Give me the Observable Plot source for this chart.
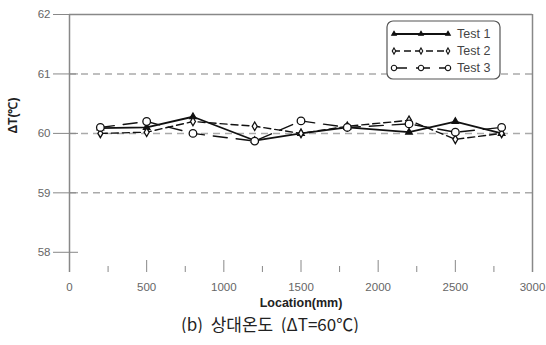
<!DOCTYPE html>
<html><head><meta charset="utf-8">
<script src="https://cdn.jsdelivr.net/npm/d3@7"></script>
<script src="https://cdn.jsdelivr.net/npm/@observablehq/plot@0.6"></script>
<style>
body{margin:0;background:#fff;font-family:"Liberation Sans",Arial,sans-serif}
#chart svg{display:block}
#cap{width:546px;text-align:center;font-family:"Noto Sans CJK KR","Liberation Sans",sans-serif;font-size:17px;line-height:18px;color:#222;margin-top:3px;position:relative;left:-3px;white-space:pre}
</style></head><body>
<div id="chart"></div>
<div id="cap">(b)  상대온도  (ΔT=60℃)</div>
<script>
const locations = [200, 500, 800, 1200, 1500, 1800, 2200, 2500, 2800];
const test1 = [60.09, 60.1, 60.28, 59.88, 60.0, 60.1, 60.02, 60.2, 60.0];
const test2 = [60.0, 60.02, 60.2, 60.12, 60.0, 60.12, 60.22, 59.9, 60.0];
const test3 = [60.1, 60.2, 60.0, 59.87, 60.21, 60.1, 60.16, 60.02, 60.1];
const seriesNames = ["Test 1", "Test 2", "Test 3"];
const xTicks = [0, 500, 1000, 1500, 2000, 2500, 3000];
const xMinorTicks = [250, 750, 1250, 1750, 2250, 2750];
const yTicks = [58, 59, 60, 61, 62];
const gridValues = [59, 60, 61];
const xLabel = "Location(mm)";
const yLabel = "ΔT(℃)";

const seriesValues = [test1, test2, test3];
const styles = [
  {dash: null, width: 1.8, symbol: "triangle", r: 2.4, fill: "#111"},
  {dash: "7,4", width: 1.4, symbol: "diamond", r: 2.6, fill: "#fff"},
  {dash: "14,9", width: 1.4, symbol: "circle", r: 3.8, fill: "#fff"}
];
const data = seriesNames.flatMap((s, i) => locations.map((x, j) => ({series: s, x, y: seriesValues[i][j]})));

const lineMarks = seriesNames.flatMap((s, i) => {
  const d = data.filter(r => r.series === s);
  const st = styles[i];
  return [
    Plot.line(d, {x: "x", y: "y", stroke: "#111", strokeWidth: st.width, strokeDasharray: st.dash}),
    Plot.dot(d, {x: "x", y: "y", symbol: () => st.symbol, r: st.r, stroke: "#111", strokeWidth: 1.3, fill: st.fill})
  ];
});

const noLabel = () => "";
const plain = d => String(d);
const chart = Plot.plot({
  width: 546,
  height: 312,
  marginLeft: 69,
  marginRight: 14,
  marginTop: 14,
  marginBottom: 40,
  style: {fontFamily: "'Liberation Sans', Arial, sans-serif", fontSize: "11.5px", background: "#fff"},
  x: {domain: [0, 3000]},
  y: {domain: [57.66, 62]},
  marks: [
    Plot.ruleY(gridValues, {stroke: "#aaa", strokeWidth: 1.5, strokeDasharray: "7,5"}),
    Plot.ruleY([62], {stroke: "#888", strokeWidth: 1.5}),
    Plot.ruleX([0], {stroke: "#888", strokeWidth: 1.5}),
    Plot.ruleX([3000], {stroke: "#888", strokeWidth: 1.5}),
    Plot.axisX(xTicks, {anchor: "bottom", tickSize: -12, tickFormat: noLabel, label: null, stroke: "#888"}),
    Plot.axisX(xMinorTicks, {anchor: "bottom", tickSize: -6, tickFormat: noLabel, label: null, stroke: "#888"}),
    Plot.axisX(xTicks, {anchor: "bottom", tickSize: 0, tickPadding: 10, tickFormat: plain, label: null, fill: "#666"}),
    Plot.axisY(yTicks, {anchor: "left", tickSize: 16, tickPadding: 3, tickFormat: noLabel, label: null, stroke: "#888"}),
    Plot.axisY(yTicks, {anchor: "left", tickSize: -9, tickFormat: noLabel, label: null, stroke: "#888"}),
    Plot.axisY(yTicks, {anchor: "left", tickSize: 0, tickPadding: 19, tickFormat: plain, label: null, fill: "#666"}),
    ...lineMarks,
    Plot.text([xLabel], {frameAnchor: "bottom", dy: 34, text: d => d, fontWeight: "bold", fontSize: 12.5, fill: "#222"}),
    Plot.text([yLabel], {frameAnchor: "left", dx: -56, dy: -10, rotate: -90, text: d => d, fontWeight: "bold", fontSize: 12, fill: "#222"})
  ]
});

// legend
const svg = d3.select(chart);
const lg = svg.append("g").attr("class", "legend").attr("text-anchor", "start");
lg.append("rect").attr("x", 387).attr("y", 21).attr("width", 113).attr("height", 58).attr("rx", 6)
  .attr("fill", "#fff").attr("stroke", "#555").attr("stroke-width", 1.2);
const sym = {triangle: d3.symbolTriangle, diamond: d3.symbolDiamond, circle: d3.symbolCircle};
seriesNames.forEach((s, i) => {
  const st = styles[i];
  const yy = 34 + i * 17;
  lg.append("line").attr("x1", 393).attr("x2", 449).attr("y1", yy).attr("y2", yy)
    .attr("stroke", "#111").attr("stroke-width", st.width).attr("stroke-dasharray", st.dash);
  [394, 421, 448].forEach(xx => {
    lg.append("path").attr("d", d3.symbol(sym[st.symbol], 0.5 * Math.PI * st.r * st.r)())
      .attr("transform", `translate(${xx},${yy})`).attr("fill", st.fill).attr("stroke", "#111").attr("stroke-width", 1.1);
  });
  lg.append("text").attr("x", 457).attr("y", yy).attr("dy", "0.35em").attr("font-size", 12.5)
    .attr("text-anchor", "start").attr("fill", "#444").text(s);
});

document.getElementById("chart").appendChild(chart);
</script>
</body></html>
